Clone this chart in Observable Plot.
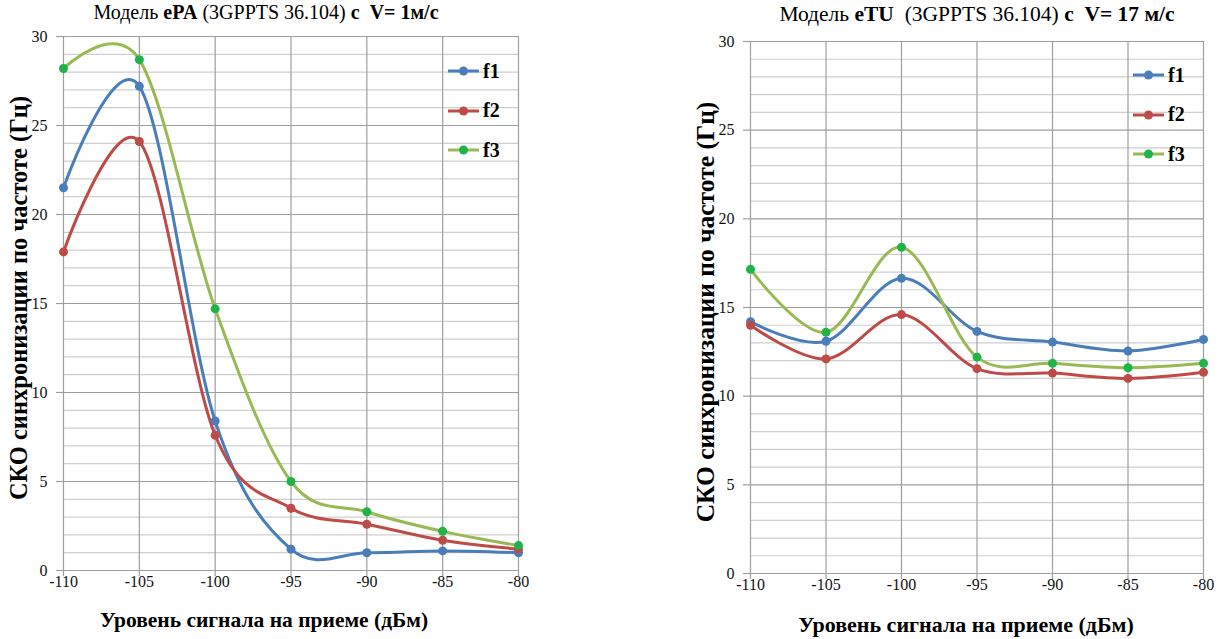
<!DOCTYPE html>
<html><head><meta charset="utf-8">
<script src="https://cdn.jsdelivr.net/npm/d3@7"></script>
<script src="https://cdn.jsdelivr.net/npm/@observablehq/plot@0.6"></script>
<style>
html,body{margin:0;padding:0;background:#fff;}
#page{position:relative;width:1219px;height:639px;overflow:hidden;font-family:"Liberation Serif","Times New Roman",serif;color:#000;}
.chart{position:absolute;top:0;}
.title{position:absolute;white-space:nowrap;transform:translateX(-50%);}
.xlabel{position:absolute;font-weight:bold;white-space:nowrap;transform:translate(-50%,-50%);}
.ylabel{position:absolute;font-weight:bold;white-space:nowrap;transform:translate(-50%,-50%) rotate(-90deg);}
.legend{position:absolute;font-size:20px;font-weight:bold;}
.legend .item{display:flex;align-items:center;height:20px;position:absolute;left:0;}
.legend svg{margin-right:4px;}
</style>
</head><body>
<div id="page"></div>
<script>
// Data
const xValues = [-110, -105, -100, -95, -90, -85, -80];
const xTicks = [-110, -105, -100, -95, -90, -85, -80];
const yTicks = [0, 5, 10, 15, 20, 25, 30];
const seriesNames = ["f1", "f2", "f3"];

// Left chart: ePA, V = 1 m/s
const epaF1 = [21.5, 27.2, 8.4, 1.2, 1.0, 1.1, 1.0];
const epaF2 = [17.9, 24.1, 7.6, 3.5, 2.6, 1.7, 1.2];
const epaF3 = [28.2, 28.7, 14.7, 5.0, 3.3, 2.2, 1.4];

// Right chart: eTU, V = 17 m/s
const etuF1 = [14.2, 13.1, 16.65, 13.65, 13.05, 12.55, 13.2];
const etuF2 = [14.0, 12.1, 14.6, 11.55, 11.3, 11.0, 11.35];
const etuF3 = [17.15, 13.6, 18.4, 12.2, 11.85, 11.6, 11.85];

const lineColors = {f1: "#4a7ebb", f2: "#be4b48", f3: "#98b954"};
const dotColors = {f1: "#4a7ebb", f2: "#be4b48", f3: "#1fb34a"};
const FONT = "Liberation Serif, Times New Roman, serif";

function table(s1, s2, s3) {
  const rows = [];
  [s1, s2, s3].forEach((s, i) => s.forEach((v, j) => rows.push({series: seriesNames[i], x: xValues[j], y: v})));
  return rows;
}

const minorY = d3.range(0, 31, 1).filter(v => v % 5 !== 0);

function makeChart(rows, opts) {
  return Plot.plot({
    width: opts.width, height: 639,
    marginLeft: opts.ml, marginRight: opts.mr, marginTop: opts.mt, marginBottom: 639 - opts.yb,
    style: {background: "transparent", overflow: "visible"},
    x: {domain: [-110, -80], label: null, axis: null},
    y: {domain: [0, 30], label: null, axis: null},
    marks: [
      Plot.gridY(minorY, {stroke: "#cfcfcf", strokeOpacity: 1, strokeWidth: 1.2}),
      Plot.gridY(yTicks, {stroke: "#9e9e9e", strokeOpacity: 1, strokeWidth: 1.2}),
      Plot.gridX(xTicks, {stroke: "#9e9e9e", strokeOpacity: 1, strokeWidth: 1.2}),
      Plot.ruleX(xTicks, {x: d => d, y1: 0, y2: 0, insetBottom: -6, stroke: "#9e9e9e", strokeWidth: 1.2}),
      Plot.ruleY(yTicks, {y: d => d, x1: -110, x2: -110, insetLeft: -7, stroke: "#9e9e9e", strokeWidth: 1.2}),
      Plot.text(xTicks, {x: d => d, frameAnchor: "bottom", dy: 16, text: d => String(d), fontSize: 16, fontFamily: FONT, fill: "#111"}),
      Plot.text(yTicks, {y: d => d, frameAnchor: "left", dx: -16, textAnchor: "end", text: d => String(d), fontSize: 16, fontFamily: FONT, fill: "#111"}),
      Plot.line(rows, {x: "x", y: "y", z: "series", stroke: d => lineColors[d.series], strokeWidth: 3, curve: "cardinal", tension: 0}),
      Plot.dot(rows, {x: "x", y: "y", fill: d => dotColors[d.series], r: 4.5})
    ]
  });
}

const page = document.getElementById("page");

function addChart(cfg) {
  const wrap = document.createElement("div");
  wrap.className = "chart";
  wrap.style.left = cfg.left + "px";
  wrap.appendChild(makeChart(cfg.rows, cfg));
  page.appendChild(wrap);

  const t = document.createElement("div");
  t.className = "title";
  t.style.left = cfg.titleX + "px";
  t.style.top = cfg.titleY + "px";
  t.style.fontSize = cfg.titleSize + "px";
  t.innerHTML = cfg.title;
  page.appendChild(t);

  const xl = document.createElement("div");
  xl.className = "xlabel";
  xl.style.left = cfg.xlabX + "px";
  xl.style.top = cfg.xlabY + "px";
  xl.style.fontSize = cfg.xlabSize + "px";
  xl.textContent = "Уровень сигнала на приеме (дБм)";
  page.appendChild(xl);

  const yl = document.createElement("div");
  yl.className = "ylabel";
  yl.style.left = cfg.ylabX + "px";
  yl.style.top = cfg.ylabY + "px";
  yl.style.fontSize = cfg.ylabSize + "px";
  yl.textContent = "СКО синхронизации по частоте (Гц)";
  page.appendChild(yl);

  const lg = document.createElement("div");
  lg.className = "legend";
  lg.style.left = cfg.legX + "px";
  lg.style.top = cfg.legY + "px";
  seriesNames.forEach((s, i) => {
    const it = document.createElement("div");
    it.className = "item";
    it.style.top = (i * 39.5) + "px";
    it.innerHTML = `<svg width="31" height="10"><line x1="0" y1="5" x2="31" y2="5" stroke="${lineColors[s]}" stroke-width="3"/><circle cx="15.5" cy="5" r="4.5" fill="${dotColors[s]}"/></svg><span>${s}</span>`;
    lg.appendChild(it);
  });
  page.appendChild(lg);
}

addChart({
  rows: table(epaF1, epaF2, epaF3),
  left: 0, width: 540, ml: 63, mr: 22, mt: 36, yb: 570,
  title: 'Модель <b>ePA</b> (3GPPTS 36.104) <b>с&nbsp; V= 1м/с</b>', titleX: 266, titleY: 1, titleSize: 20,
  xlabX: 264, xlabY: 620, xlabSize: 21.5, ylabX: 19, ylabY: 298, ylabSize: 24.5,
  legX: 448, legY: 61
});

addChart({
  rows: table(etuF1, etuF2, etuF3),
  left: 685, width: 534, ml: 65, mr: 16, mt: 41, yb: 573,
  title: 'Модель <b>eTU</b>&nbsp; (3GPPTS 36.104) <b>с&nbsp; V= 17 м/с</b>', titleX: 977, titleY: 2, titleSize: 21.5,
  xlabX: 966, xlabY: 625, xlabSize: 22, ylabX: 706, ylabY: 312, ylabSize: 25.5,
  legX: 1133, legY: 65
});
</script>
</body></html>
